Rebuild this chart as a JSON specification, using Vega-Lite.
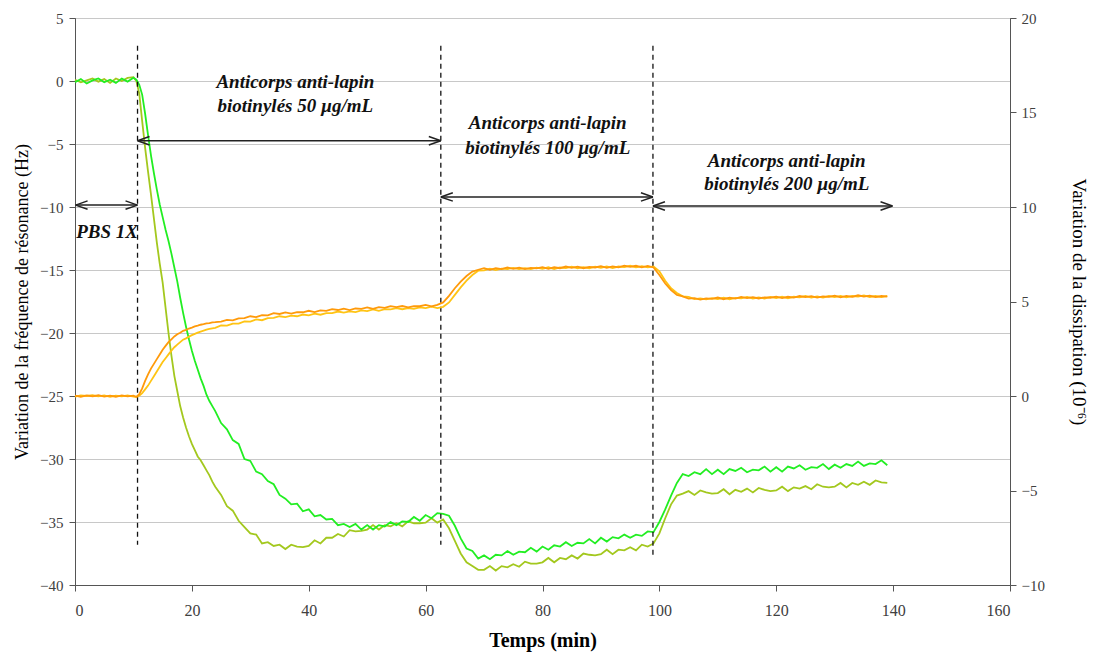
{
  "$schema": "https://vega.github.io/schema/vega-lite/v6.json",
  "width": 935,
  "height": 567,
  "autosize": {"type": "none"},
  "padding": {"left": 75, "top": 18, "right": 86, "bottom": 69},
  "background": "white",
  "config": {
    "view": {"stroke": "#555", "strokeWidth": 1},
    "axis": {
      "labelFont": "Liberation Serif",
      "titleFont": "Liberation Serif",
      "domainColor": "#555",
      "tickColor": "#555",
      "labelColor": "#404040",
      "titleColor": "#000",
      "titleFontWeight": "normal"
    }
  },
  "datasets": {
    "qcm": [
      {"t":0,"f1":-0.1,"f2":0.1,"d1":0.02,"d2":-0.03},
      {"t":1,"f1":0.15,"f2":-0.1,"d1":-0.04,"d2":0.03},
      {"t":2,"f1":-0.2,"f2":0.05,"d1":0.03,"d2":0.0},
      {"t":3,"f1":0.05,"f2":0.2,"d1":-0.02,"d2":0.04},
      {"t":4,"f1":0.2,"f2":-0.05,"d1":0.04,"d2":-0.02},
      {"t":5,"f1":-0.1,"f2":0.15,"d1":-0.03,"d2":0.03},
      {"t":6,"f1":0.1,"f2":-0.15,"d1":0.02,"d2":-0.04},
      {"t":7,"f1":-0.15,"f2":0.2,"d1":-0.04,"d2":0.02},
      {"t":8,"f1":0.2,"f2":0.0,"d1":0.03,"d2":-0.02},
      {"t":9,"f1":-0.05,"f2":0.25,"d1":-0.02,"d2":0.03},
      {"t":10,"f1":0.25,"f2":0.3,"d1":0.02,"d2":-0.03},
      {"t":10.5,"f1":0.1,"f2":0.0,"d1":-0.05,"d2":-0.04},
      {"t":11,"f1":-0.3,"f2":-1.0,"d1":0.1,"d2":0.02},
      {"t":11.5,"f1":-1.1,"f2":-3.2,"d1":0.4,"d2":0.15},
      {"t":12,"f1":-2.6,"f2":-5.3,"d1":0.8,"d2":0.35},
      {"t":12.5,"f1":-4.3,"f2":-7.2,"d1":1.15,"d2":0.55},
      {"t":13,"f1":-5.9,"f2":-9.0,"d1":1.45,"d2":0.8},
      {"t":13.5,"f1":-7.3,"f2":-10.9,"d1":1.7,"d2":1.05},
      {"t":14,"f1":-8.6,"f2":-12.8,"d1":1.95,"d2":1.3},
      {"t":14.5,"f1":-9.8,"f2":-14.5,"d1":2.2,"d2":1.55},
      {"t":15,"f1":-10.8,"f2":-16.0,"d1":2.45,"d2":1.8},
      {"t":15.5,"f1":-11.8,"f2":-18.0,"d1":2.65,"d2":2.0},
      {"t":16,"f1":-12.7,"f2":-20.0,"d1":2.85,"d2":2.2},
      {"t":16.5,"f1":-13.7,"f2":-21.8,"d1":3.0,"d2":2.4},
      {"t":17,"f1":-14.8,"f2":-23.4,"d1":3.15,"d2":2.58},
      {"t":17.5,"f1":-15.9,"f2":-24.6,"d1":3.27,"d2":2.72},
      {"t":18,"f1":-17.2,"f2":-25.8,"d1":3.35,"d2":2.85},
      {"t":18.5,"f1":-18.4,"f2":-26.7,"d1":3.45,"d2":2.98},
      {"t":19,"f1":-19.5,"f2":-27.5,"d1":3.5,"d2":3.05},
      {"t":19.5,"f1":-20.5,"f2":-28.2,"d1":3.57,"d2":3.14},
      {"t":20,"f1":-21.4,"f2":-28.8,"d1":3.62,"d2":3.22},
      {"t":20.5,"f1":-22.2,"f2":-29.3,"d1":3.68,"d2":3.29},
      {"t":21,"f1":-22.9,"f2":-29.8,"d1":3.72,"d2":3.35},
      {"t":21.5,"f1":-23.6,"f2":-30.1,"d1":3.77,"d2":3.41},
      {"t":22,"f1":-24.2,"f2":-30.5,"d1":3.8,"d2":3.46},
      {"t":22.5,"f1":-24.9,"f2":-30.9,"d1":3.84,"d2":3.51},
      {"t":23,"f1":-25.4,"f2":-31.3,"d1":3.86,"d2":3.55},
      {"t":23.5,"f1":-25.8,"f2":-31.8,"d1":3.9,"d2":3.58},
      {"t":24,"f1":-26.2,"f2":-32.2,"d1":3.91,"d2":3.61},
      {"t":25,"f1":-27.15,"f2":-32.85,"d1":3.94,"d2":3.73},
      {"t":26,"f1":-27.65,"f2":-33.75,"d1":4.03,"d2":3.72},
      {"t":27,"f1":-28.5,"f2":-34.1,"d1":4.0,"d2":3.83},
      {"t":28,"f1":-28.8,"f2":-34.9,"d1":4.11,"d2":3.83},
      {"t":29,"f1":-30.0,"f2":-35.4,"d1":4.12,"d2":3.95},
      {"t":30,"f1":-30.15,"f2":-35.9,"d1":4.22,"d2":3.94},
      {"t":31,"f1":-31.0,"f2":-36.0,"d1":4.17,"d2":4.05},
      {"t":32,"f1":-31.2,"f2":-36.7,"d1":4.28,"d2":4.01},
      {"t":33,"f1":-31.75,"f2":-36.6,"d1":4.27,"d2":4.12},
      {"t":34,"f1":-32.0,"f2":-36.9,"d1":4.38,"d2":4.13},
      {"t":35,"f1":-32.85,"f2":-36.8,"d1":4.34,"d2":4.22},
      {"t":36,"f1":-33.15,"f2":-37.15,"d1":4.42,"d2":4.17},
      {"t":37,"f1":-33.6,"f2":-36.8,"d1":4.36,"d2":4.25},
      {"t":38,"f1":-33.55,"f2":-36.95,"d1":4.44,"d2":4.22},
      {"t":39,"f1":-34.15,"f2":-37.0,"d1":4.43,"d2":4.31},
      {"t":40,"f1":-34.0,"f2":-36.9,"d1":4.51,"d2":4.27},
      {"t":41,"f1":-34.55,"f2":-36.45,"d1":4.44,"d2":4.36},
      {"t":42,"f1":-34.45,"f2":-36.7,"d1":4.53,"d2":4.3},
      {"t":43,"f1":-34.8,"f2":-36.25,"d1":4.5,"d2":4.39},
      {"t":44,"f1":-34.75,"f2":-36.25,"d1":4.6,"d2":4.39},
      {"t":45,"f1":-35.25,"f2":-35.95,"d1":4.55,"d2":4.47},
      {"t":46,"f1":-35.15,"f2":-36.15,"d1":4.62,"d2":4.41},
      {"t":47,"f1":-35.4,"f2":-35.65,"d1":4.55,"d2":4.48},
      {"t":48,"f1":-35.15,"f2":-35.75,"d1":4.63,"d2":4.44},
      {"t":49,"f1":-35.6,"f2":-35.7,"d1":4.61,"d2":4.53},
      {"t":50,"f1":-35.25,"f2":-35.6,"d1":4.69,"d2":4.49},
      {"t":51,"f1":-35.6,"f2":-35.25,"d1":4.61,"d2":4.58},
      {"t":52,"f1":-35.25,"f2":-35.6,"d1":4.7,"d2":4.51},
      {"t":53,"f1":-35.35,"f2":-35.25,"d1":4.66,"d2":4.59},
      {"t":54,"f1":-35.0,"f2":-35.35,"d1":4.75,"d2":4.58},
      {"t":55,"f1":-35.25,"f2":-35.1,"d1":4.7,"d2":4.65},
      {"t":56,"f1":-34.95,"f2":-35.35,"d1":4.76,"d2":4.59},
      {"t":57,"f1":-35.0,"f2":-34.95,"d1":4.69,"d2":4.65},
      {"t":58,"f1":-34.6,"f2":-35.1,"d1":4.76,"d2":4.61},
      {"t":59,"f1":-34.9,"f2":-35.1,"d1":4.75,"d2":4.69},
      {"t":60,"f1":-34.45,"f2":-35.05,"d1":4.82,"d2":4.65},
      {"t":61,"f1":-34.7,"f2":-34.7,"d1":4.74,"d2":4.73},
      {"t":62,"f1":-34.3,"f2":-35.05,"d1":4.82,"d2":4.65},
      {"t":63,"f1":-34.35,"f2":-34.8,"d1":4.95,"d2":4.72},
      {"t":64,"f1":-34.5,"f2":-35.5,"d1":5.3,"d2":4.95},
      {"t":65,"f1":-35.3,"f2":-36.5,"d1":5.7,"d2":5.35},
      {"t":66,"f1":-36.3,"f2":-37.5,"d1":6.05,"d2":5.75},
      {"t":67,"f1":-37.1,"f2":-38.2,"d1":6.35,"d2":6.1},
      {"t":68,"f1":-37.3,"f2":-38.5,"d1":6.58,"d2":6.4},
      {"t":69,"f1":-37.9,"f2":-38.8,"d1":6.68,"d2":6.63},
      {"t":70,"f1":-37.65,"f2":-38.8,"d1":6.76,"d2":6.65},
      {"t":71,"f1":-37.95,"f2":-38.5,"d1":6.68,"d2":6.74},
      {"t":72,"f1":-37.6,"f2":-38.85,"d1":6.76,"d2":6.66},
      {"t":73,"f1":-37.65,"f2":-38.5,"d1":6.71,"d2":6.74},
      {"t":74,"f1":-37.3,"f2":-38.6,"d1":6.8,"d2":6.72},
      {"t":75,"f1":-37.6,"f2":-38.35,"d1":6.73,"d2":6.78},
      {"t":76,"f1":-37.35,"f2":-38.55,"d1":6.79,"d2":6.71},
      {"t":77,"f1":-37.4,"f2":-38.15,"d1":6.71,"d2":6.76},
      {"t":78,"f1":-37.05,"f2":-38.3,"d1":6.78,"d2":6.71},
      {"t":79,"f1":-37.35,"f2":-38.3,"d1":6.75,"d2":6.79},
      {"t":80,"f1":-36.95,"f2":-38.2,"d1":6.82,"d2":6.73},
      {"t":81,"f1":-37.2,"f2":-37.85,"d1":6.73,"d2":6.81},
      {"t":82,"f1":-36.85,"f2":-38.2,"d1":6.81,"d2":6.72},
      {"t":83,"f1":-36.95,"f2":-37.85,"d1":6.76,"d2":6.8},
      {"t":84,"f1":-36.6,"f2":-37.95,"d1":6.85,"d2":6.77},
      {"t":85,"f1":-36.9,"f2":-37.65,"d1":6.78,"d2":6.84},
      {"t":86,"f1":-36.65,"f2":-37.9,"d1":6.84,"d2":6.76},
      {"t":87,"f1":-36.7,"f2":-37.5,"d1":6.76,"d2":6.82},
      {"t":88,"f1":-36.35,"f2":-37.6,"d1":6.83,"d2":6.76},
      {"t":89,"f1":-36.7,"f2":-37.65,"d1":6.8,"d2":6.84},
      {"t":90,"f1":-36.25,"f2":-37.55,"d1":6.87,"d2":6.78},
      {"t":91,"f1":-36.55,"f2":-37.2,"d1":6.78,"d2":6.86},
      {"t":92,"f1":-36.2,"f2":-37.55,"d1":6.86,"d2":6.77},
      {"t":93,"f1":-36.3,"f2":-37.2,"d1":6.81,"d2":6.85},
      {"t":94,"f1":-36.0,"f2":-37.25,"d1":6.9,"d2":6.82},
      {"t":95,"f1":-36.25,"f2":-37.0,"d1":6.83,"d2":6.89},
      {"t":96,"f1":-36.0,"f2":-37.25,"d1":6.89,"d2":6.81},
      {"t":97,"f1":-36.1,"f2":-36.8,"d1":6.81,"d2":6.87},
      {"t":98,"f1":-35.75,"f2":-36.95,"d1":6.88,"d2":6.81},
      {"t":99,"f1":-35.8,"f2":-36.7,"d1":6.8,"d2":6.86},
      {"t":100,"f1":-35.0,"f2":-35.9,"d1":6.4,"d2":6.6},
      {"t":101,"f1":-34.0,"f2":-34.7,"d1":5.95,"d2":6.1},
      {"t":102,"f1":-32.9,"f2":-33.6,"d1":5.6,"d2":5.7},
      {"t":103,"f1":-31.9,"f2":-32.9,"d1":5.35,"d2":5.45},
      {"t":104,"f1":-31.2,"f2":-32.75,"d1":5.27,"d2":5.27},
      {"t":105,"f1":-31.35,"f2":-32.55,"d1":5.15,"d2":5.25},
      {"t":106,"f1":-31.05,"f2":-32.85,"d1":5.18,"d2":5.13},
      {"t":107,"f1":-31.2,"f2":-32.5,"d1":5.1,"d2":5.17},
      {"t":108,"f1":-30.8,"f2":-32.65,"d1":5.16,"d2":5.11},
      {"t":109,"f1":-31.2,"f2":-32.75,"d1":5.14,"d2":5.18},
      {"t":110,"f1":-30.85,"f2":-32.7,"d1":5.21,"d2":5.13},
      {"t":111,"f1":-31.2,"f2":-32.4,"d1":5.12,"d2":5.2},
      {"t":112,"f1":-30.8,"f2":-32.8,"d1":5.2,"d2":5.12},
      {"t":113,"f1":-30.95,"f2":-32.45,"d1":5.15,"d2":5.19},
      {"t":114,"f1":-30.7,"f2":-32.6,"d1":5.24,"d2":5.17},
      {"t":115,"f1":-31.05,"f2":-32.35,"d1":5.18,"d2":5.24},
      {"t":116,"f1":-30.85,"f2":-32.65,"d1":5.23,"d2":5.16},
      {"t":117,"f1":-30.9,"f2":-32.3,"d1":5.16,"d2":5.22},
      {"t":118,"f1":-30.6,"f2":-32.45,"d1":5.22,"d2":5.16},
      {"t":119,"f1":-31.0,"f2":-32.55,"d1":5.2,"d2":5.24},
      {"t":120,"f1":-30.65,"f2":-32.5,"d1":5.26,"d2":5.18},
      {"t":121,"f1":-31.0,"f2":-32.2,"d1":5.18,"d2":5.26},
      {"t":122,"f1":-30.6,"f2":-32.55,"d1":5.25,"d2":5.17},
      {"t":123,"f1":-30.75,"f2":-32.25,"d1":5.21,"d2":5.25},
      {"t":124,"f1":-30.5,"f2":-32.35,"d1":5.29,"d2":5.22},
      {"t":125,"f1":-30.85,"f2":-32.15,"d1":5.23,"d2":5.29},
      {"t":126,"f1":-30.65,"f2":-32.4,"d1":5.28,"d2":5.21},
      {"t":127,"f1":-30.7,"f2":-32.0,"d1":5.21,"d2":5.27},
      {"t":128,"f1":-30.4,"f2":-32.2,"d1":5.27,"d2":5.21},
      {"t":129,"f1":-30.8,"f2":-32.25,"d1":5.25,"d2":5.29},
      {"t":130,"f1":-30.45,"f2":-32.2,"d1":5.31,"d2":5.23},
      {"t":131,"f1":-30.7,"f2":-31.9,"d1":5.22,"d2":5.3},
      {"t":132,"f1":-30.4,"f2":-32.25,"d1":5.3,"d2":5.22},
      {"t":133,"f1":-30.55,"f2":-31.9,"d1":5.25,"d2":5.29},
      {"t":134,"f1":-30.2,"f2":-32.05,"d1":5.33,"d2":5.26},
      {"t":135,"f1":-30.55,"f2":-31.8,"d1":5.26,"d2":5.32},
      {"t":136,"f1":-30.35,"f2":-32.05,"d1":5.31,"d2":5.24},
      {"t":137,"f1":-30.4,"f2":-31.7,"d1":5.23,"d2":5.29},
      {"t":138,"f1":-30.1,"f2":-31.85,"d1":5.29,"d2":5.23},
      {"t":139,"f1":-30.5,"f2":-31.9,"d1":5.26,"d2":5.3}
    ],
    "vlines": [
      {"t": 10.7, "val": 2.8, "val2": -36.8},
      {"t": 62.6, "val": 2.8, "val2": -36.8},
      {"t": 98.9, "val": 2.8, "val2": -37.6}
    ],
    "arrows": [
      {"t": 0.1, "t2": 10.7, "val": -9.85},
      {"t": 10.7, "t2": 62.6, "val": -4.74},
      {"t": 62.6, "t2": 98.9, "val": -9.2},
      {"t": 98.9, "t2": 139.9, "val": -9.92}
    ],
    "heads": [
      {"t": 0.1, "val": -9.85, "dir": "L"},
      {"t": 10.7, "val": -9.85, "dir": "R"},
      {"t": 10.7, "val": -4.74, "dir": "L"},
      {"t": 62.6, "val": -4.74, "dir": "R"},
      {"t": 62.6, "val": -9.2, "dir": "L"},
      {"t": 98.9, "val": -9.2, "dir": "R"},
      {"t": 98.9, "val": -9.92, "dir": "L"},
      {"t": 139.9, "val": -9.92, "dir": "R"}
    ],
    "labels": [
      {"t": 5.5, "val": -12.0, "label": "PBS 1X"},
      {"t": 37.7, "val": -0.1, "label": "Anticorps anti-lapin"},
      {"t": 37.7, "val": -2.0, "label": "biotinylés 50 µg/mL"},
      {"t": 80.9, "val": -3.35, "label": "Anticorps anti-lapin"},
      {"t": 80.9, "val": -5.3, "label": "biotinylés 100 µg/mL"},
      {"t": 121.8, "val": -6.35, "label": "Anticorps anti-lapin"},
      {"t": 121.8, "val": -8.2, "label": "biotinylés 200 µg/mL"}
    ]
  },
  "layer": [
    {
      "layer": [
        {
          "data": {"name": "qcm"},
          "transform": [{"fold": ["f2", "f1"], "as": ["series", "val"]}],
          "mark": {"type": "line", "strokeWidth": 1.8},
          "encoding": {
            "x": {
              "field": "t", "type": "quantitative",
              "scale": {"domain": [0, 160], "nice": false},
              "axis": {
                "title": "Temps (min)", "values": [0, 20, 40, 60, 80, 100, 120, 140, 160],
                "grid": false, "tickSize": 6, "labelPadding": 11, "labelFontSize": 16,
                "titleFontSize": 20, "titleFontWeight": "bold", "titlePadding": 12
              }
            },
            "y": {
              "field": "val", "type": "quantitative",
              "scale": {"domain": [-40, 5], "nice": false, "zero": false},
              "axis": {
                "title": "Variation de la fréquence de résonance  (Hz)",
                "values": [-40, -35, -30, -25, -20, -15, -10, -5, 0, 5],
                "grid": true, "gridColor": "#c8c8c8", "gridWidth": 1,
                "tickSize": 6, "labelPadding": 6, "labelFontSize": 15,
                "titleFontSize": 18, "titlePadding": 8
              }
            },
            "color": {
              "field": "series", "type": "nominal",
              "scale": {"domain": ["f2", "f1"], "range": ["#a3c81e", "#22ee22"]},
              "legend": null
            }
          }
        },
        {
          "data": {"name": "vlines"},
          "mark": {"type": "rule", "color": "#111", "strokeWidth": 1.3, "strokeDash": [5, 4]},
          "encoding": {
            "x": {"field": "t", "type": "quantitative"},
            "y": {"field": "val", "type": "quantitative"},
            "y2": {"field": "val2"}
          }
        },
        {
          "data": {"name": "arrows"},
          "mark": {"type": "rule", "color": "#222", "strokeWidth": 1.5},
          "encoding": {
            "x": {"field": "t", "type": "quantitative"},
            "x2": {"field": "t2"},
            "y": {"field": "val", "type": "quantitative"}
          }
        },
        {
          "data": {"name": "heads"},
          "transform": [{"filter": "datum.dir === 'L'"}],
          "mark": {"type": "point", "shape": "M0,0L2,-0.7M0,0L2,0.7", "filled": false, "size": 144, "stroke": "#222", "strokeWidth": 1.5, "opacity": 1},
          "encoding": {
            "x": {"field": "t", "type": "quantitative"},
            "y": {"field": "val", "type": "quantitative"}
          }
        },
        {
          "data": {"name": "heads"},
          "transform": [{"filter": "datum.dir === 'R'"}],
          "mark": {"type": "point", "shape": "M0,0L-2,-0.7M0,0L-2,0.7", "filled": false, "size": 144, "stroke": "#222", "strokeWidth": 1.5, "opacity": 1},
          "encoding": {
            "x": {"field": "t", "type": "quantitative"},
            "y": {"field": "val", "type": "quantitative"}
          }
        },
        {
          "data": {"name": "labels"},
          "mark": {"type": "text", "font": "Liberation Serif", "fontSize": 19, "fontStyle": "italic", "fontWeight": "bold", "color": "#111", "align": "center", "baseline": "middle"},
          "encoding": {
            "x": {"field": "t", "type": "quantitative"},
            "y": {"field": "val", "type": "quantitative"},
            "text": {"field": "label"}
          }
        }
      ]
    },
    {
      "data": {"name": "qcm"},
      "transform": [{"fold": ["d2", "d1"], "as": ["series", "val"]}],
      "mark": {"type": "line", "strokeWidth": 1.8},
      "encoding": {
        "x": {"field": "t", "type": "quantitative"},
        "y": {
          "field": "val", "type": "quantitative",
          "scale": {"domain": [-10, 20], "nice": false, "zero": false},
          "axis": {
            "orient": "right",
            "title": "Variation de la dissipation (10⁻⁶)",
            "values": [-10, -5, 0, 5, 10, 15, 20],
            "grid": false, "tickSize": 6, "labelPadding": 5, "labelFontSize": 15,
            "titleFontSize": 19, "titlePadding": 24
          }
        },
        "color": {
          "field": "series", "type": "nominal",
          "scale": {"domain": ["d2", "d1"], "range": ["#ffc414", "#ff9a0a"]},
          "legend": null
        }
      }
    }
  ],
  "resolve": {"scale": {"y": "independent", "color": "independent"}}
}
